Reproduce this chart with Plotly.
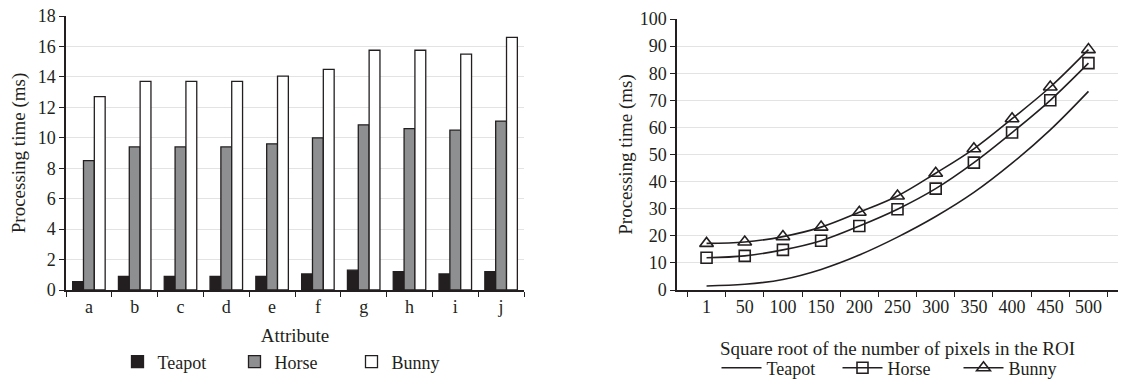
import plotly.graph_objects as go

# ---- data ----
attributes = ["a", "b", "c", "d", "e", "f", "g", "h", "i", "j"]
bar_teapot = [0.55, 0.9, 0.9, 0.9, 0.9, 1.05, 1.3, 1.2, 1.05, 1.2]
bar_horse = [8.5, 9.4, 9.4, 9.4, 9.6, 10.0, 10.85, 10.6, 10.5, 11.1]
bar_bunny = [12.7, 13.7, 13.7, 13.7, 14.05, 14.5, 15.75, 15.75, 15.5, 16.6]

roi_sizes = ["1", "50", "100", "150", "200", "250", "300", "350", "400", "450", "500"]
line_teapot = [1.5, 2.1, 3.9, 7.6, 12.9, 19.5, 27.1, 36.0, 46.8, 59.1, 73.3]
line_horse = [11.9, 12.6, 14.8, 18.2, 23.6, 29.8, 37.4, 47.0, 58.1, 70.0, 83.7]
line_bunny = [17.2, 17.7, 19.7, 23.2, 28.7, 34.7, 43.1, 52.1, 63.2, 74.9, 88.7]

# the page body has an 8px margin, so the figure is drawn 8px in from the top-left
OFF = 8
W, H = 1137 - OFF, 379 - OFF


def px_x(px):
    return (px - OFF) / W


def px_y(py):
    return 1 - (py - OFF) / H


FONT = "Liberation Serif"
INK = "#231f20"
GRID = "#e3e3e3"
TICK_FS = 18
TITLE_FS = 19
LEG_FS = 18

fig = go.Figure()

bar_colors = [INK, "#8e8f91", "#ffffff"]
for name, vals, col in zip(["Teapot", "Horse", "Bunny"], [bar_teapot, bar_horse, bar_bunny], bar_colors):
    fig.add_trace(go.Bar(
        x=attributes, y=vals, name=name, xaxis="x", yaxis="y",
        marker=dict(color=col, line=dict(color=INK, width=1.3)),
        legend="legend",
    ))

fig.add_trace(go.Scatter(
    x=roi_sizes, y=line_teapot, name="Teapot", mode="lines", xaxis="x2", yaxis="y2",
    line=dict(color=INK, width=1.6, shape="spline"), legend="legend2",
))
fig.add_trace(go.Scatter(
    x=roi_sizes, y=line_horse, name="Horse", mode="lines+markers", xaxis="x2", yaxis="y2",
    line=dict(color=INK, width=1.6, shape="spline"),
    marker=dict(symbol="square-open", size=11, color=INK, line=dict(width=1.6)),
    legend="legend2",
))
fig.add_trace(go.Scatter(
    x=roi_sizes, y=line_bunny, name="Bunny", mode="lines+markers", xaxis="x2", yaxis="y2",
    line=dict(color=INK, width=1.6, shape="spline"),
    marker=dict(symbol="triangle-up-open", size=12, color=INK, line=dict(width=1.6)),
    legend="legend2",
))

axis_common = dict(
    showline=True, linecolor=INK, linewidth=1.5, ticks="outside", tickcolor=INK,
    ticklen=5, tickwidth=1.2, tickfont=dict(family=FONT, size=TICK_FS, color=INK),
    automargin=False, zeroline=False, ticklabeloverflow="allow",
)
title_font = dict(family=FONT, size=TITLE_FS, color=INK)

fig.update_layout(
    template="none",
    width=W, height=H,
    margin=dict(l=0, r=0, t=0, b=0, autoexpand=False),
    paper_bgcolor="white", plot_bgcolor="white",
    font=dict(family=FONT, size=TICK_FS, color=INK),
    barmode="group", bargap=0.29, bargroupgap=0.0,
    xaxis=dict(domain=[px_x(66), px_x(524)], anchor="y", type="category", tickson="boundaries",
               showgrid=False,
               title=dict(text="Attribute", font=title_font, standoff=12),
               **axis_common),
    yaxis=dict(domain=[px_y(290), px_y(16)], anchor="x", range=[0, 18], dtick=2, showgrid=True,
               gridcolor=GRID, gridwidth=1.3,
               title=dict(text="Processing time (ms)", font=title_font, standoff=8),
               **axis_common),
    xaxis2=dict(domain=[px_x(677), px_x(1118)], anchor="y2", type="category", tickson="boundaries",
                showgrid=False,
                title=dict(text="Square root of the number of pixels in the ROI",
                           font=title_font, standoff=25),
                **axis_common),
    yaxis2=dict(domain=[px_y(290), px_y(19)], anchor="x2", range=[0, 100], dtick=10, showgrid=True,
                gridcolor=GRID, gridwidth=1.3,
                title=dict(text="Processing time (ms)", font=title_font, standoff=2),
                **axis_common),
    legend=dict(orientation="h", x=px_x(293), xanchor="center", y=px_y(362), yanchor="middle",
                font=dict(family=FONT, size=LEG_FS, color=INK), entrywidth=72, entrywidthmode="pixels",
                itemwidth=30, traceorder="normal", bgcolor="rgba(0,0,0,0)"),
    legend2=dict(orientation="h", x=px_x(898), xanchor="center", y=px_y(368), yanchor="middle",
                 font=dict(family=FONT, size=LEG_FS, color=INK), entrywidth=66, entrywidthmode="pixels",
                 itemwidth=40, traceorder="normal", bgcolor="rgba(0,0,0,0)"),
)

fig.write_html("out.html")
